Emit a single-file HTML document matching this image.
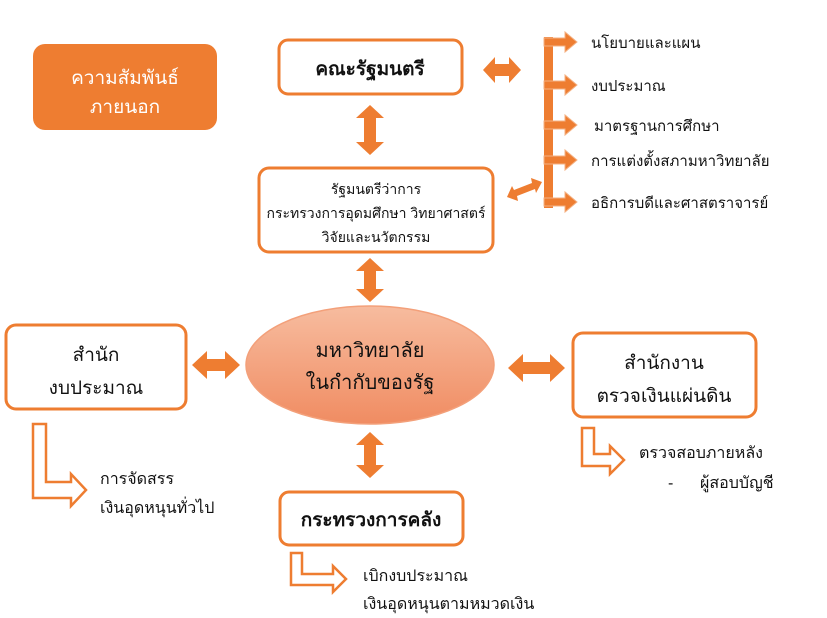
<!DOCTYPE html>
<html><head><meta charset="utf-8">
<style>
html,body{margin:0;padding:0;background:#fff;}
svg{display:block;}
text{font-family:"Liberation Sans","Noto Sans CJK SC",sans-serif;fill:#111;}
</style></head>
<body>
<svg width="827" height="618" viewBox="0 0 827 618" xmlns="http://www.w3.org/2000/svg">
<defs>
<linearGradient id="eg" x1="0" y1="0" x2="0" y2="1">
<stop offset="0" stop-color="#f7bc9f"/><stop offset="1" stop-color="#f08c62"/>
</linearGradient>
</defs>
<g fill="none" stroke="#ee7d31" stroke-width="3">
<rect x="279" y="40" width="183" height="54" rx="9" fill="#fff"/>
<rect x="259" y="168" width="234" height="84" rx="10" fill="#fff"/>
<rect x="6" y="325" width="180" height="84" rx="10" fill="#fff"/>
<rect x="573" y="333" width="183" height="84" rx="10" fill="#fff"/>
<rect x="280" y="492" width="183" height="53" rx="9" fill="#fff"/>
</g>
<rect x="33" y="44" width="184" height="86" rx="12" fill="#ee7d31"/>
<ellipse cx="370" cy="365" rx="124" ry="59" fill="url(#eg)" stroke="#f3a07a" stroke-width="1.5"/>

<g fill="#ee7d31">
<polygon points="483,70 495,57 495,64 509,64 509,57 521,70 509,83 509,76 495,76 495,83"/>
<polygon points="192,365 207,351 207,359 225,359 225,351 240,365 225,379 225,371 207,371 207,379"/>
<polygon points="508,368 523,354 523,362 550,362 550,354 565,368 550,382 550,374 523,374 523,382"/>
<polygon points="370,105 384,118 376,118 376,142 384,142 370,155 356,142 364,142 364,118 356,118"/>
<polygon points="370,258 384,271 376,271 376,289 384,289 370,302 356,289 364,289 364,271 356,271"/>
<polygon points="370,432 384,445 376,445 376,465 384,465 370,478 356,465 364,465 364,445 356,445"/>
<polygon points="507,197 512,186 514,190 532,183 531,178 542,182 536,193 535,189 517,196 518,201"/>
<rect x="544" y="37" width="9" height="171"/>
</g>
<g fill="#ee7d31" stroke="#f4b183" stroke-width="1">
<polygon points="544,38 565,38 565,32 577,42 565,52 565,46 544,46"/>
<polygon points="544,81 565,81 565,75 577,85 565,95 565,89 544,89"/>
<polygon points="544,121 565,121 565,115 577,125 565,135 565,129 544,129"/>
<polygon points="544,156 565,156 565,150 577,160 565,170 565,164 544,164"/>
<polygon points="544,198 565,198 565,192 577,202 565,212 565,206 544,206"/>
</g>
<g fill="#fff" stroke="#ee7d31" stroke-width="2.5" stroke-linejoin="miter">
<polygon points="33,424 46,424 46,482 71,482 71,474 86,490 71,506 71,498 33,498"/>
<polygon points="582,428 594,428 594,454 610,454 610,446 624,460 610,474 610,466 582,466"/>
<polygon points="291,553 302,553 302,574 333,574 333,566 346,579 333,592 333,585 291,585"/>
</g>

<g font-size="19" text-anchor="middle">
<text x="125" y="84" style="fill:#fff">ความสัมพันธ์</text>
<text x="125" y="113" style="fill:#fff">ภายนอก</text>
<text x="370" y="75" font-weight="bold">คณะรัฐมนตรี</text>
<text x="96" y="361">สำนัก</text>
<text x="96" y="394">งบประมาณ</text>
<text x="664" y="369">สำนักงาน</text>
<text x="664" y="402">ตรวจเงินแผ่นดิน</text>
<text x="371" y="526" font-weight="bold">กระทรวงการคลัง</text>
<text x="370" y="357" font-size="20">มหาวิทยาลัย</text>
<text x="370" y="389" font-size="20">ในกำกับของรัฐ</text>
</g>
<g font-size="14" text-anchor="middle">
<text x="376" y="194">รัฐมนตรีว่าการ</text>
<text x="376" y="218">กระทรวงการอุดมศึกษา วิทยาศาสตร์</text>
<text x="376" y="242">วิจัยและนวัตกรรม</text>
</g>
<g font-size="15">
<text x="591" y="48">นโยบายและแผน</text>
<text x="591" y="91">งบประมาณ</text>
<text x="594" y="131">มาตรฐานการศึกษา</text>
<text x="591" y="166">การแต่งตั้งสภามหาวิทยาลัย</text>
<text x="591" y="208">อธิการบดีและศาสตราจารย์</text>
</g>
<g font-size="16">
<text x="100" y="484">การจัดสรร</text>
<text x="100" y="513">เงินอุดหนุนทั่วไป</text>
<text x="639" y="458">ตรวจสอบภายหลัง</text>
<text x="668" y="488">-&#160;&#160;&#160;&#160;&#160;&#160;ผู้สอบบัญชี</text>
<text x="363" y="581">เบิกงบประมาณ</text>
<text x="363" y="609">เงินอุดหนุนตามหมวดเงิน</text>
</g>
</svg>
</body></html>
